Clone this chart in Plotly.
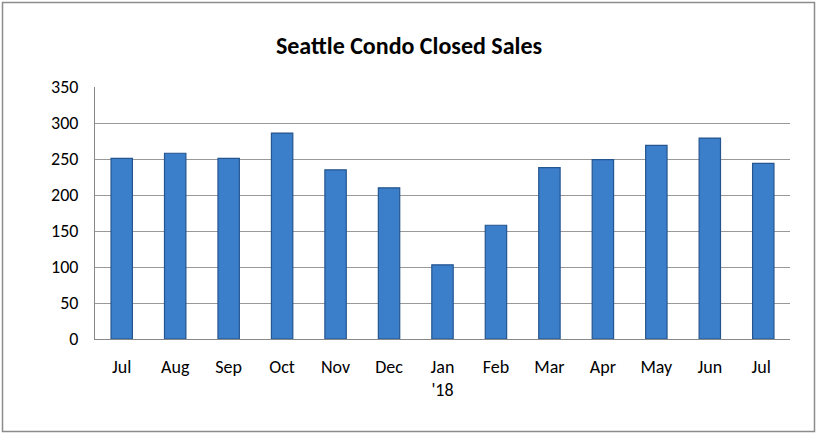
import plotly.graph_objects as go

months = ['Jul', 'Aug', 'Sep', 'Oct', 'Nov', 'Dec', "Jan<br>'18", 'Feb', 'Mar', 'Apr', 'May', 'Jun', 'Jul ']
closed_sales = [251, 258, 251, 286, 235, 210, 103, 158, 238, 249, 269, 279, 244]

W, H = 818, 434
ml, mr, mt, mb = 95, 28, 87, 95

fig = go.Figure(go.Bar(
    x=months,
    y=closed_sales,
    marker=dict(color='#3b7fcb', line=dict(color='#24558f', width=1.2)),
))

pw = W - ml - mr
ph = H - mt - mb
# outer grey frame around the whole chart
fig.add_shape(type='rect', xref='paper', yref='paper',
              x0=(2.5 - ml) / pw, x1=(W - 3.5 - ml) / pw,
              y0=-(H - 2.5 - mt - ph) / ph, y1=1 + (mt - 2.5) / ph,
              line=dict(color='#8c8c8c', width=1.5), fillcolor='rgba(0,0,0,0)')

fig.update_layout(
    width=W, height=H,
    margin=dict(l=ml, r=mr, t=mt, b=mb),
    title=dict(text='<b>Seattle Condo Closed Sales</b>', x=0.5, xanchor='center',
               y=1 - 46 / H, yanchor='middle', font=dict(size=24, color='#000')),
    font=dict(family='Carlito, Lato, sans-serif', size=18, color='#000'),
    plot_bgcolor='white', paper_bgcolor='white',
    bargap=0.6,
    showlegend=False,
    xaxis=dict(showline=True, linecolor='#888', linewidth=1, ticks='',
               ticklabelstandoff=11, tickfont=dict(size=18)),
    yaxis=dict(range=[0, 350], dtick=50, showgrid=True, gridcolor='#999', gridwidth=1,
               showline=True, linecolor='#888', linewidth=1, zeroline=False,
               ticks='', ticklabelstandoff=12, tickfont=dict(size=18)),
)

fig.write_html("out.html", config={'displayModeBar': False},
               post_script="document.body.style.margin='0';")
